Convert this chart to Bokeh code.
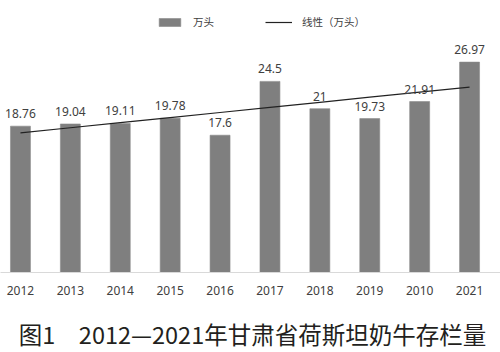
import numpy as np
from bokeh.plotting import figure
from bokeh.layouts import column
from bokeh.models import Range1d, FixedTicker, Legend, LegendItem, ColumnDataSource
from bokeh.core.properties import value
from bokeh.embed import file_html
from bokeh.resources import INLINE

years = ["2012", "2013", "2014", "2015", "2016", "2017", "2018", "2019", "2010", "2021"]
herd = [18.76, 19.04, 19.11, 19.78, 17.6, 24.5, 21, 19.73, 21.91, 26.97]
value_labels = ["18.76", "19.04", "19.11", "19.78", "17.6", "24.5", "21", "19.73", "21.91", "26.97"]
caption = "图1\u30002012—2021年甘肃省荷斯坦奶牛存栏量"
series_name = "万头"
trend_name = "线性（万头）"

idx = list(range(len(years)))
coef = np.polyfit(idx, herd, 1)
trend = [float(coef[0] * i + coef[1]) for i in idx]

src = ColumnDataSource(dict(x=idx, top=herd, lab=value_labels, trend=trend))

p = figure(width=500, height=300, output_backend="svg", toolbar_location=None,
           x_range=Range1d(-0.4, 9.62), y_range=Range1d(0, 34.87),
           min_border_left=0, min_border_right=0, min_border_top=0, min_border_bottom=28,
           outline_line_color=None)
p.grid.visible = False
p.yaxis.visible = False

bars = p.vbar(x="x", top="top", width=0.4, source=src, fill_color="#7f7f7f", line_color="#8a8a8a", line_width=0.6)
line = p.line(x="x", y="trend", source=src, line_color="#222222", line_width=1.2)
p.text(x="x", y="top", text="lab", source=src, text_align="center", text_baseline="bottom",
       y_offset=-8, text_font=value("Noto Sans"), text_font_size="12px", text_color="#404040")

ax = p.xaxis[0]
ax.ticker = FixedTicker(ticks=idx)
ax.major_label_overrides = {i: y for i, y in zip(idx, years)}
ax.major_tick_line_color = None
ax.minor_tick_line_color = None
ax.axis_line_color = "#d9d9d9"
ax.axis_line_width = 1.2
ax.major_label_standoff = 7
ax.major_label_text_font = "Noto Sans"
ax.major_label_text_font_size = "12px"
ax.major_label_text_color = "#404040"

legend = Legend(items=[LegendItem(label=series_name, renderers=[bars]),
                       LegendItem(label=trend_name, renderers=[line])],
                orientation="horizontal", location=(156, 243),
                glyph_width=27, glyph_height=10, label_height=10, label_standoff=10,
                spacing=51, padding=0, margin=0, border_line_color=None,
                background_fill_alpha=0, label_text_font="Noto Sans CJK SC",
                label_text_font_size="10.5px", label_text_color="#404040")
p.add_layout(legend)

# caption strip below the chart
c = figure(width=500, height=52, output_backend="svg", toolbar_location=None,
           x_range=Range1d(0, 500), y_range=Range1d(0, 52),
           min_border=0, outline_line_color=None)
c.axis.visible = False
c.grid.visible = False
c.text(x=[252], y=[19], text=[caption], text_align="center", text_baseline="middle",
       text_font=value("Noto Sans CJK SC"), text_font_size="23.5px", text_color="#231f20")

layout = column(p, c, spacing=0)
open("out.html", "w").write(file_html(layout, INLINE))
